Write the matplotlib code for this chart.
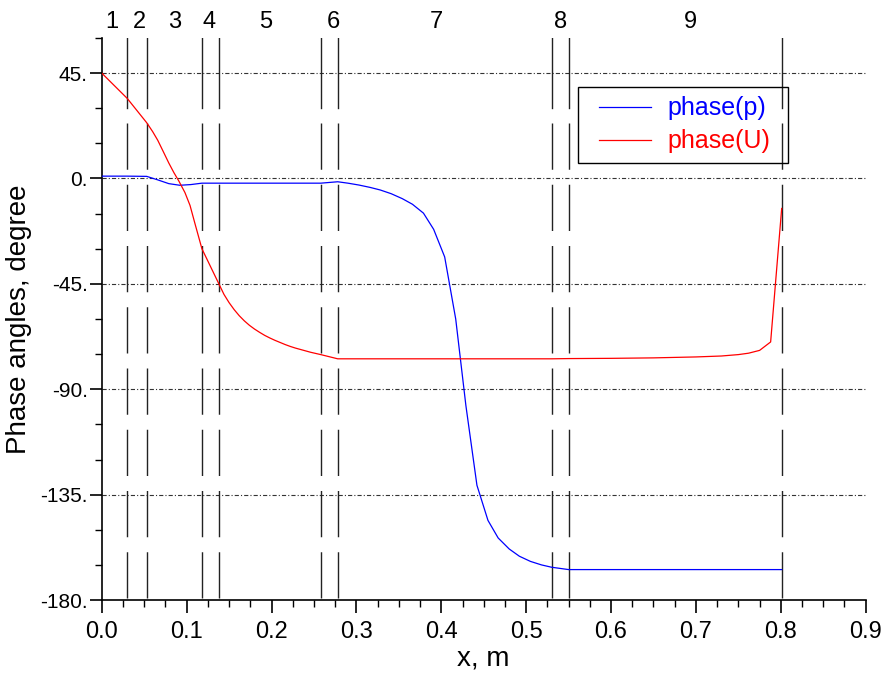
import matplotlib
matplotlib.use('Agg')
import matplotlib.pyplot as plt
from matplotlib.patches import Rectangle
from matplotlib.ticker import MultipleLocator, FuncFormatter

plt.rcParams['font.family'] = ['Liberation Sans', 'DejaVu Sans']
plt.rcParams['lines.scale_dashes'] = False

# phase(p) samples
x_p = [0.0, 0.03, 0.053, 0.066, 0.079, 0.092, 0.105, 0.118, 0.138, 0.258, 0.278,
       0.290, 0.303, 0.316, 0.328, 0.341, 0.354, 0.366, 0.379, 0.391, 0.404,
       0.417, 0.429, 0.442, 0.455, 0.467, 0.480, 0.492, 0.505, 0.518, 0.530,
       0.550, 0.801]
phase_p = [1.0, 1.0, 0.9, -0.6, -2.2, -2.9, -2.6, -2.0, -2.0, -2.0, -1.4,
           -2.0, -2.8, -3.8, -4.9, -6.5, -8.6, -11.0, -14.8, -21.7, -33.5,
           -60.0, -97.0, -131.0, -146.0, -153.5, -158.2, -161.3, -163.5, -165.0, -166.0,
           -167.0, -167.0]

# phase(U) samples
x_u = [0.0, 0.03, 0.053, 0.060, 0.066, 0.0726, 0.079, 0.085, 0.091, 0.098, 0.104,
       0.110, 0.118, 0.138, 0.144, 0.150, 0.156, 0.162, 0.168, 0.174, 0.180,
       0.186, 0.192, 0.198, 0.204, 0.210, 0.216, 0.222, 0.228, 0.234, 0.240,
       0.246, 0.252, 0.258, 0.278, 0.400, 0.530, 0.550, 0.600, 0.650, 0.700,
       0.730, 0.750, 0.762, 0.775, 0.788, 0.801]
phase_u = [45.0, 34.2, 23.8, 20.0, 16.3, 11.4, 6.6, 2.5, -1.2, -6.0, -11.5,
           -19.5, -30.0, -45.0, -49.5, -53.0, -56.0, -58.6, -60.8, -62.7, -64.3,
           -65.7, -67.0, -68.1, -69.1, -70.0, -70.9, -71.7, -72.4, -73.0, -73.6,
           -74.2, -74.7, -75.2, -77.0, -77.0, -77.0, -76.9, -76.8, -76.6, -76.2,
           -75.8, -75.2, -74.6, -73.4, -69.8, -12.8]

# section boundaries and zone numbers
bounds = [0.03, 0.053, 0.118, 0.138, 0.258, 0.278, 0.53, 0.55, 0.801]
zone_x = [0.0122, 0.044, 0.0863, 0.1264, 0.1935, 0.2724, 0.394, 0.540, 0.694]
zone_lbl = ['1', '2', '3', '4', '5', '6', '7', '8', '9']

grid_y = [45, 0, -45, -90, -135]

fig = plt.figure(figsize=(8.87, 6.78), dpi=100)
ax = fig.add_axes([0.1147, 0.115, 0.8613, 0.829])

for g in grid_y:
    ax.axhline(g, color='#333333', lw=0.8, ls=(0, (3, 1.5, 0.8, 1.5)), zorder=1)

for b in bounds:
    ax.plot([b, b], [60, 30], color='#222222', lw=1.0, zorder=2)
    ax.plot([b, b], [30, -180], color='#222222', lw=1.0,
            ls=(33.3, (33.3, 10.8)), zorder=2)

ax.plot(x_p, phase_p, color='#0000ff', lw=0.9, label='phase(p)', zorder=3)
ax.plot(x_u, phase_u, color='#ff0000', lw=0.9, label='phase(U)', zorder=3)

for zx, zl in zip(zone_x, zone_lbl):
    ax.text(zx, 67, zl, ha='center', va='center', fontsize=17, clip_on=False)

ax.set_xlim(0, 0.9)
ax.set_ylim(-180, 60)
ax.spines['top'].set_visible(False)
ax.spines['right'].set_visible(False)
ax.spines['left'].set_linewidth(1.2)
ax.spines['bottom'].set_linewidth(1.2)

ax.xaxis.set_major_locator(MultipleLocator(0.1))
ax.xaxis.set_minor_locator(MultipleLocator(0.025))
ax.xaxis.set_major_formatter(FuncFormatter(lambda v, p: f'{v:.1f}'))
ax.set_yticks([-180, -135, -90, -45, 0, 45])
ax.set_yticks([60, 30, 15, -15, -30, -60, -75, -105, -120, -150, -165], minor=True)
ax.yaxis.set_major_formatter(FuncFormatter(lambda v, p: f'{int(round(v))}.'))

ax.tick_params(axis='x', which='major', direction='out', length=9, width=1.2,
               labelsize=17, pad=6)
ax.tick_params(axis='x', which='minor', direction='out', length=5, width=1.0)
ax.tick_params(axis='y', which='major', direction='out', length=9, width=1.2,
               labelsize=15, pad=1)
ax.tick_params(axis='y', which='minor', direction='out', length=5, width=1.0)

ax.set_xlabel('x, m', fontsize=20, labelpad=2)
ax.set_ylabel('Phase angles, degree', fontsize=20, labelpad=6)

# legend without its own frame; box drawn separately for wider side padding
leg = ax.legend(loc='center left', bbox_to_anchor=(0.651, 0.8452), fontsize=18,
                frameon=False, borderaxespad=0, borderpad=0, handlelength=2.08,
                handletextpad=0.64, labelspacing=0.36)
for txt, ln in zip(leg.get_texts(), leg.get_lines()):
    txt.set_color(ln.get_color())
ax.add_patch(Rectangle((0.6234, 0.7776), 0.2749, 0.1352, transform=ax.transAxes,
                       fill=False, edgecolor='black', lw=1.0, zorder=5, clip_on=False))

fig.savefig('out.png', dpi=100)
